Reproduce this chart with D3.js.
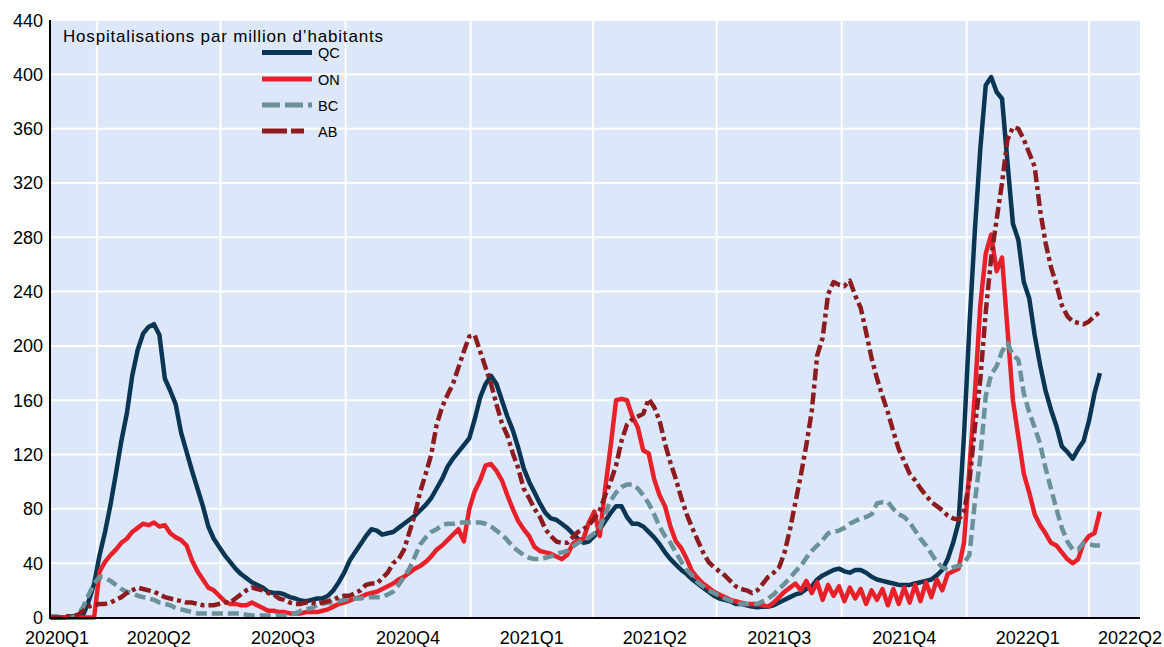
<!DOCTYPE html>
<html>
<head>
<meta charset="utf-8">
<script src="https://cdn.jsdelivr.net/npm/d3@7"></script>
<style>
  html, body { margin: 0; padding: 0; background: #ffffff; }
  svg { display: block; font-family: "Liberation Sans", Arial, sans-serif; }
</style>
</head>
<body>
<svg id="chart" width="1164" height="647"></svg>
<script>
// ---------------- DATA ----------------
const seriesNames = ["QC", "ON", "BC", "AB"];
const quarterLabels = ["2020Q1","2020Q2","2020Q3","2020Q4","2021Q1","2021Q2","2021Q3","2021Q4","2022Q1","2022Q2"];
const yTicks = [0,40,80,120,160,200,240,280,320,360,400,440];
const titleText = "Hospitalisations par million d\u2019habitants";
const firstDate = "2020-02-27";   // observations every 4 days
const stepDays = 4;

const qc = [0,0,0,0,1,1,2,12,25,46,63,83,106,130,150,178,197,209,214,216,208,176,167,157,136,122,108,95,82,67,58,52,46,41,36,32,29,26,24,22,19,18,18,17,15,14,12.5,12,13,14,14,16,20,26,33,42,48,54,60,65,64,61,62,63,66,69,72,75,79,83,88,95,102,111,117,122,127,132,146,162,172,178,172,160,148,138,125,110,100,92,84,77,73,72,69,66,62,58,55,56,60,65,71,77,82,82,74,69,69,67,63,59,54,48,43,39,35,32,28,25,22,19,16,14,13,12,10,10,9,8,7.5,8,8,9,11,13,15,17,18,21,23,28,31,33,35,36,34,33,35,35,33,30,28,27,26,25,24,24,24,25,26,27,28,31,35,43,55,70,134,215,285,345,392,398,387,382,335,290,278,247,235,208,186,167,153,141,126,122,117,124,130,145,165,180];

const on = [0,0,0,0,0,0,0,0,0,34,41,46,50,55,58,63,66,69,68,70,67,68,62,59,57,53,42,34,28,22,20,16,12,10,10,9,9,11,9,7,5,5,4,4,3,3,3,4,4,4,5,6,8,10,11,12.5,14,15,17,18,19,21,23,25,28,30,33,36,38,41,45,50,53,57,61,65,56,80,93,101,112,113,108,101,90,80,71,65,60,52,49,48,47,45,43,46,54,57,58,70,78,60,95,126,160,161,160,148,140,123,121,102,90,82,67,56,51,43,34,29,25,22,19,17,15,13,12,11,10,10,10,9,8,11,15,19,22,25,20,27,18,26,13,24,16,23,12,22,14,21,10,20,13,21,9,21,10,22,11,24,12,26,15,28,20,32,34,36,55,110,165,230,268,282,255,265,212,160,133,106,92,76,68,62,55,53,48,43,40,43,55,60,62,78];

const bc = [1,1,0,0,0,2,8,17,25,30,29,27,24,21,19,18,16,15,14,13,11,10,9,7,6,5,4,3,3,3,3,3,3,3,3,3,2,1.5,1.5,1.5,1.5,1.5,1.5,1.5,2,3,5,6,7,9,10,11,11,12,13,14,14,14,15,15,15,15,17,19,24,30,36,45,54,59,63,65,68,69,69,70,70,70,70,70,69,67,64,61,57,52,49,46,44,43,43,44,45,47,48,49,52,55,57,59,62,66,76,86,92,96,98,98,95,90,84,76,67,60,55,48,41,35,31,26,23,20,18,16,14,12.5,11,10,10,10,10,12,14,17,21,25,29,34,38,44,49,53,57,62,63,64,66,69,71,73,74,76,84,85,85,80,76,74,70,64,58,53,47,41,37,35,37,38,40,46,85,118,163,179,185,196,202,193,190,165,151,140,128,110,95,80,66,56,50,50,55,54,53,53];

const ab = [0,0,0,1,1,2,5,8,9,10,10,11,13,15,18,20,22,21,20,19,17,15,14,13,12,11,11,10,9,9,9,10,11,11,14,17,20,22,21,20,18,17,14,13,11,10,10,11,11,10,11,12,13,15,16,16,18,20,24,25,25,29,33,40,43,50,63,76,93,106,120,142,155,164,172,184,196,207,208,196,184,172,157,143,134,121,110,95,88,80,74,65,60,56,55,55,59,63,65,68,73,79,90,100,112,130,142,146,148,150,161,155,145,128,114,102,88,76,66,57,48,41,37,34,31,27,23,21,20,18,20,25,30,33,37,48,65,85,105,127,152,193,206,238,247,245,244,248,237,228,210,191,176,163,151,137,124,115,106,101,95,90,85,82,79,75,73,72,78,100,140,175,225,265,293,320,352,361,360,352,342,332,300,276,258,245,230,222,218,217,216,218,222,225];

// ---------------- LAYOUT ----------------
const W = 1164, H = 647;
const plot = { left: 50, right: 1140, top: 20, bottom: 617.5 };

const svg = d3.select("#chart");

const x = d3.scaleTime()
  .domain([new Date(2020, 1, 26, 12), new Date(2022, 4, 8, 12)])
  .range([plot.left, plot.right]);
const y = d3.scaleLinear().domain([0, 440]).range([plot.bottom, plot.top]);

const start = d3.timeParse("%Y-%m-%d")(firstDate);
const dates = qc.map((_, i) => d3.timeDay.offset(start, i * stepDays));

// background
svg.append("rect")
  .attr("x", plot.left).attr("y", plot.top)
  .attr("width", plot.right - plot.left).attr("height", plot.bottom - plot.top)
  .attr("fill", "#dce8fa");

// horizontal gridlines
svg.append("g").selectAll("line").data(yTicks.filter(d => d > 0)).join("line")
  .attr("x1", plot.left).attr("x2", plot.right)
  .attr("y1", d => y(d)).attr("y2", d => y(d))
  .attr("stroke", "#ffffff").attr("stroke-width", 2);

// vertical gridlines at quarter starts
const quarterStarts = d3.timeMonth.every(3).range(new Date(2020, 3, 1), new Date(2022, 4, 2));
svg.append("g").selectAll("line").data(quarterStarts).join("line")
  .attr("x1", d => x(d)).attr("x2", d => x(d))
  .attr("y1", plot.top).attr("y2", plot.bottom)
  .attr("stroke", "#ffffff").attr("stroke-width", 2);

// y axis labels
svg.append("g").selectAll("text").data(yTicks).join("text")
  .attr("x", 43).attr("y", d => y(d) + 6.5)
  .attr("text-anchor", "end")
  .attr("font-size", 18).attr("fill", "#000")
  .text(d => d);

// x labels at quarter midpoints, clamped inside the picture
const qStartsAll = quarterLabels.map((q, i) => new Date(2020, i * 3, 1));
const xl = svg.append("g").selectAll("text").data(quarterLabels).join("text")
  .attr("y", 644)
  .attr("font-size", 18).attr("fill", "#000")
  .attr("text-anchor", "middle")
  .text(d => d);
xl.each(function(d, i) {
  const s = qStartsAll[i];
  const e = new Date(s.getFullYear(), s.getMonth() + 3, 1);
  let cx = (x(s) + x(e)) / 2;
  const w = this.getComputedTextLength();
  if (cx - w / 2 < 25) cx = 25 + w / 2;
  if (cx + w / 2 > 1162) cx = 1162 - w / 2;
  d3.select(this).attr("x", cx);
});

// series
const styles = {
  QC: { color: "#0b3653", dash: null },
  ON: { color: "#e8202a", dash: null },
  BC: { color: "#6a9298", dash: "11,5" },
  AB: { color: "#8c1c1f", dash: "12,4,4,4" }
};
const seriesData = { QC: qc, ON: on, BC: bc, AB: ab };

const line = d3.line()
  .x((d, i) => x(dates[i]))
  .y(d => y(d));

const lg = svg.append("g");
seriesNames.forEach(name => {
  const p = lg.append("path")
    .datum(seriesData[name])
    .attr("d", line)
    .attr("fill", "none")
    .attr("stroke", styles[name].color)
    .attr("stroke-width", 4.5)
    .attr("stroke-linejoin", "round");
  if (styles[name].dash) p.attr("stroke-dasharray", styles[name].dash);
});

// axes lines
svg.append("line").attr("x1", plot.left).attr("x2", plot.left)
  .attr("y1", plot.top).attr("y2", plot.bottom + 1)
  .attr("stroke", "#000").attr("stroke-width", 2);
svg.append("line").attr("x1", plot.left - 1).attr("x2", plot.right)
  .attr("y1", plot.bottom + 0.5).attr("y2", plot.bottom + 0.5)
  .attr("stroke", "#000").attr("stroke-width", 2);

// title inside plot
svg.append("text")
  .attr("x", 63).attr("y", 41.5)
  .attr("font-size", 17).attr("fill", "#000")
  .attr("textLength", 320).attr("lengthAdjust", "spacing")
  .text(titleText);

// legend
const legendDash = { QC: null, ON: null, BC: "18,5", AB: "25,4,13,100" };
const legendY = [52.5, 79, 105, 131];
const leg = svg.append("g");
seriesNames.forEach((name, i) => {
  const l = leg.append("line")
    .attr("x1", 262).attr("x2", 312)
    .attr("y1", legendY[i]).attr("y2", legendY[i])
    .attr("stroke", styles[name].color).attr("stroke-width", 5);
  if (legendDash[name]) l.attr("stroke-dasharray", legendDash[name]);
  leg.append("text")
    .attr("x", 318).attr("y", legendY[i] + 5.5)
    .attr("font-size", 14.5).attr("fill", "#000")
    .text(name);
});
</script>
</body>
</html>
